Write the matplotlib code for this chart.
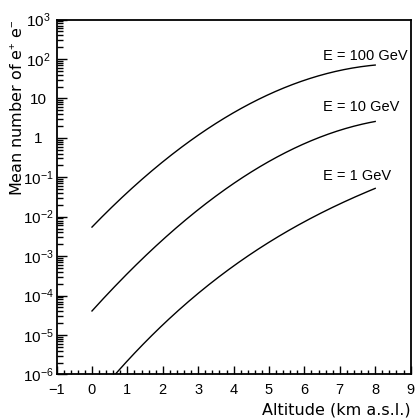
import numpy as np
import matplotlib
matplotlib.use("Agg")
import matplotlib.pyplot as plt
from matplotlib.ticker import FixedLocator, FixedFormatter, LogLocator, NullFormatter, MultipleLocator

plt.rcParams['font.family'] = ['Liberation Sans', 'DejaVu Sans']
plt.rcParams['mathtext.fontset'] = 'custom'
plt.rcParams['mathtext.rm'] = 'Liberation Sans'
plt.rcParams['mathtext.it'] = 'Liberation Sans'

altitude = [0, 1, 2, 3, 4, 5, 6, 7, 8]
n_100gev = [5.6e-3, 0.039, 0.245, 1.23, 4.3, 12.6, 28.8, 50, 71]
n_10gev = [4.1e-5, 3.5e-4, 2.75e-3, 0.0145, 0.066, 0.27, 0.75, 1.4, 2.7]
n_1gev = [2.0e-7, 2.2e-6, 1.9e-5, 1.07e-4, 5.6e-4, 2.35e-3, 7.2e-3, 0.0214, 0.052]
labels = ["E = 100 GeV", "E = 10 GeV", "E = 1 GeV"]
label_y = [120, 6.0, 0.107]

ytick_vals = [1e-6, 1e-5, 1e-4, 1e-3, 1e-2, 1e-1, 1, 10, 1e2, 1e3]
ytick_labels = [r"$\mathregular{10^{-6}}$", r"$\mathregular{10^{-5}}$", r"$\mathregular{10^{-4}}$",
                r"$\mathregular{10^{-3}}$", r"$\mathregular{10^{-2}}$", r"$\mathregular{10^{-1}}$",
                "1", "10", r"$\mathregular{10^{2}}$", r"$\mathregular{10^{3}}$"]
xtick_vals = [-1, 0, 1, 2, 3, 4, 5, 6, 7, 8, 9]
xtick_labels = ["\u22121", "0", "1", "2", "3", "4", "5", "6", "7", "8", "9"]

fig = plt.figure(figsize=(4.16, 4.19), dpi=100)
ax = fig.add_axes([0.136, 0.1064, 0.851, 0.847])

for x, y in ((altitude, n_100gev), (altitude, n_10gev), (altitude, n_1gev)):
    xs = np.linspace(0, 8, 200)
    coef = np.polyfit(x, np.log10(y), 3)
    ys = 10 ** np.polyval(coef, xs)
    ax.plot(xs, ys, color='black', lw=1.0)

for lab, ly in zip(labels, label_y):
    ax.text(6.52, ly, lab, fontsize=10.5, ha='left', va='center')

ax.set_yscale('log')
ax.set_xlim(-1, 9)
ax.set_ylim(1e-6, 1e3)
ax.yaxis.set_major_locator(FixedLocator(ytick_vals))
ax.yaxis.set_major_formatter(FixedFormatter(ytick_labels))
ax.yaxis.set_minor_locator(LogLocator(base=10, subs=np.arange(2, 10), numticks=20))
ax.yaxis.set_minor_formatter(NullFormatter())
ax.xaxis.set_major_locator(FixedLocator(xtick_vals))
ax.xaxis.set_major_formatter(FixedFormatter(xtick_labels))
ax.xaxis.set_minor_locator(MultipleLocator(0.2))

ax.tick_params(axis='both', which='both', direction='in', top=False, right=False, width=1.0)
ax.tick_params(axis='y', which='major', length=7, labelsize=11, pad=13)
ax.tick_params(axis='y', which='minor', length=4)
ax.tick_params(axis='x', which='major', length=6, labelsize=10.5, pad=6)
ax.tick_params(axis='x', which='minor', length=3)
for t in ax.get_yticklabels():
    t.set_horizontalalignment('center')
for s in ax.spines.values():
    s.set_linewidth(1.3)

ax.set_xlabel("Altitude (km a.s.l.)", fontsize=11.5, loc='right',
              family=['DejaVu Sans'], labelpad=4)
ax.set_ylabel("Mean number of e$^{+}$ e$^{-}$", fontsize=11.5, loc='top',
              family=['DejaVu Sans'])
ax.yaxis.set_label_coords(-0.086, 1.0)

fig.savefig("out.png", dpi=100)
